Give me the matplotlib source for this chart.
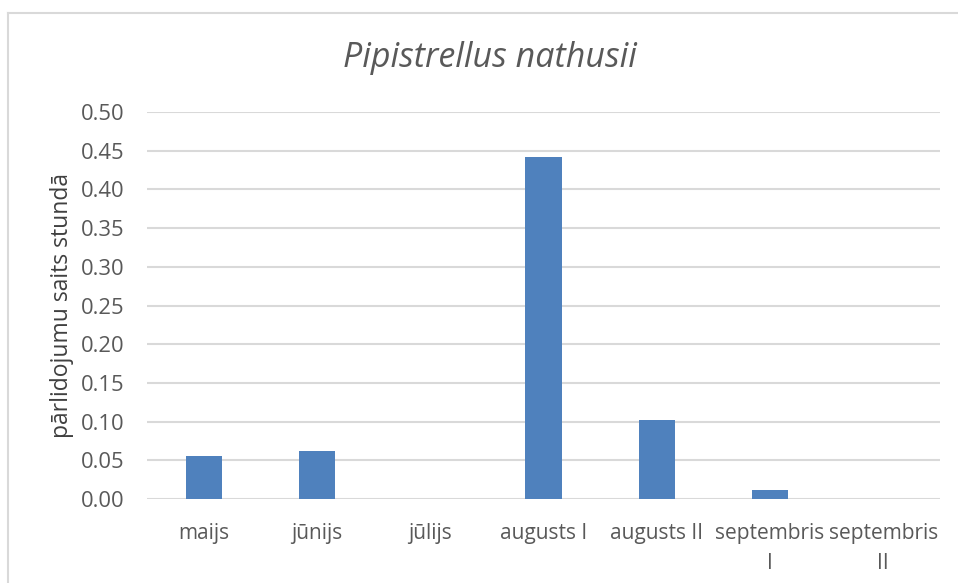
import matplotlib
matplotlib.use("Agg")
import matplotlib.pyplot as plt
from matplotlib.lines import Line2D
import numpy as np

# dati
categories = ["maijs", "jūnijs", "jūlijs", "augusts I", "augusts II",
              "septembris\nI", "septembris\nII"]
values = [0.056, 0.062, 0.0, 0.442, 0.102, 0.011, 0.0]
yticks = [0.0, 0.05, 0.10, 0.15, 0.20, 0.25, 0.30, 0.35, 0.40, 0.45, 0.50]

plt.rcParams['font.family'] = ['Open Sans', 'DejaVu Sans']
txt = '#595959'
grid = '#D9D9D9'

W, H = 958, 583
fig = plt.figure(figsize=(W / 100, H / 100), dpi=100)
ax = fig.add_axes([147 / W, 1 - 499 / H, (940 - 147) / W, (499 - 112) / H])

x = np.arange(len(categories))
ax.bar(x, values, width=0.32, color='#4F81BD', zorder=3)

ax.set_xlim(-0.5, len(categories) - 0.5)
ax.set_ylim(0, 0.5)
ax.set_yticks(yticks)
ax.set_yticklabels(["%.2f" % v for v in yticks])
ax.set_xticks(x)
ax.set_xticklabels(categories, linespacing=1.6)

ax.tick_params(axis='y', length=0, pad=16, labelsize=15.8, labelcolor=txt)
ax.tick_params(axis='x', length=0, pad=17, labelsize=15, labelcolor=txt)

for s in ax.spines.values():
    s.set_visible(False)
ax.yaxis.grid(True, color=grid, linewidth=1.5, zorder=0)
ax.set_axisbelow(True)

ax.set_ylabel("pārlidojumu saits stundā", fontsize=16.5, color='#404040', labelpad=5)
fig.text(490 / W, 1 - 58 / H, "Pipistrellus nathusii", fontsize=24.5, style='italic',
         color=txt, ha='center', va='center')

# rāmis
fig.add_artist(Line2D([8 / W, 1], [1 - 13 / H, 1 - 13 / H], color=grid, lw=1.5,
                      transform=fig.transFigure))
fig.add_artist(Line2D([8 / W, 8 / W], [0, 1 - 13 / H], color=grid, lw=1.5,
                      transform=fig.transFigure))

fig.savefig("out.png", dpi=100)
